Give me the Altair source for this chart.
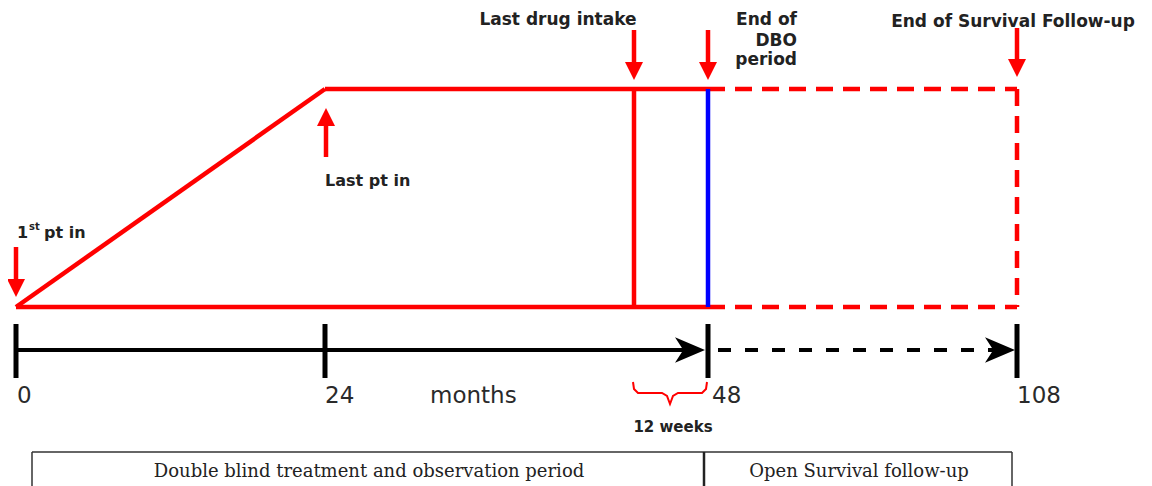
import altair as alt
import pandas as pd

# ---- schematic timeline (diagram units) ----
tick_pos = [16, 325, 708, 1017]
tick_labels = ["0", "24", "48", "108"]
y_top = 89
y_base = 307
y_axis = 350

# red study outline: solid segments
solid_x1 = [16, 16, 325, 634]
solid_y1 = [y_base, y_base, y_top, y_top]
solid_x2 = [708, 325, 708, 634]
solid_y2 = [y_base, y_top, y_top, y_base]
# red study outline: dashed (follow-up) segments
dash_x1 = [708, 708, 1017]
dash_y1 = [y_base, y_top, y_top]
dash_x2 = [1017, 1017, 1017]
dash_y2 = [y_base, y_top, y_base]
# blue end-of-DBO line
blue_x = [708]

# red event arrows (shaft start, shaft end, head centre)
down_x = [634, 708, 1017, 16]
down_shaft_top = [30, 30, 28, 247]
down_shaft_bot = [64, 64, 62, 281]
down_head = [71, 71, 68, 288]
up_x = [326]
up_shaft_top = [125]
up_shaft_bot = [157]
up_head = [117]

# black axis
axis_solid = [16, 690]
axis_dash = [708, 1000]
axis_heads = [690, 1000]
tick_top, tick_bot = 324, 378

# brace for "12 weeks"
brace_x = [633, 634, 638, 662, 667, 670, 673, 678, 702, 706, 707]
brace_y = [382, 389, 393, 393, 396, 404, 396, 393, 393, 389, 382]

# box
box_left, box_div, box_right, box_top, box_bot = 32, 704, 1012, 452, 486

xs = alt.Scale(domain=[8, 1144], nice=False, zero=False)
ys = alt.Scale(domain=[8, 486], reverse=True, nice=False, zero=False)


def seg_df(x1, y1, x2, y2):
    return pd.DataFrame({"x": x1, "y": y1, "x2": x2, "y2": y2})


def rules(df, color, width, dash=None, offset=None):
    kw = dict(color=color, strokeWidth=width)
    if dash is not None:
        kw["strokeDash"] = dash
    if offset is not None:
        kw["strokeDashOffset"] = offset
    return alt.Chart(df).mark_rule(**kw).encode(
        x=alt.X("x:Q", scale=xs, axis=None),
        y=alt.Y("y:Q", scale=ys, axis=None),
        x2="x2:Q",
        y2="y2:Q",
    )


def symbols(df, shape, size, color):
    return alt.Chart(df).mark_point(
        shape=shape, size=size, filled=True, color=color, opacity=1, strokeWidth=0
    ).encode(
        x=alt.X("x:Q", scale=xs, axis=None),
        y=alt.Y("y:Q", scale=ys, axis=None),
    )


def texts(df, size, weight, align, font, color="#222222"):
    return alt.Chart(df).mark_text(
        fontSize=size, fontWeight=weight, align=align, baseline="alphabetic",
        font=font, color=color
    ).encode(
        x=alt.X("x:Q", scale=xs, axis=None),
        y=alt.Y("y:Q", scale=ys, axis=None),
        text="t:N",
    )


RED = "#ff0000"
layers = []
layers.append(rules(seg_df(solid_x1, solid_y1, solid_x2, solid_y2), RED, 4.5))
layers.append(rules(seg_df(dash_x1, dash_y1, dash_x2, dash_y2), RED, 4.5, dash=[17, 10]))
layers.append(rules(seg_df(blue_x, [y_top], blue_x, [y_base]), "#0000ff", 4.5))

# arrows
layers.append(rules(seg_df(down_x, down_shaft_top, down_x, down_shaft_bot), RED, 4.5))
layers.append(symbols(pd.DataFrame({"x": down_x, "y": down_head}),
                      "M-1,-1L1,-1L0,1Z", 324, RED))
layers.append(rules(seg_df(up_x, up_shaft_top, up_x, up_shaft_bot), RED, 4.5))
layers.append(symbols(pd.DataFrame({"x": up_x, "y": up_head}),
                      "M-1,1L1,1L0,-1Z", 324, RED))

# black axis
layers.append(rules(seg_df([axis_solid[0]], [y_axis], [axis_solid[1]], [y_axis]), "black", 4))
layers.append(rules(seg_df([axis_dash[0]], [y_axis], [axis_dash[1]], [y_axis]), "black", 4,
                    dash=[13, 14], offset=17))
layers.append(rules(seg_df(tick_pos, [tick_top] * 4, tick_pos, [tick_bot] * 4), "black", 5))
layers.append(symbols(pd.DataFrame({"x": axis_heads, "y": [y_axis] * 2}),
                      "M1,0L-1,-0.85L-0.45,0L-1,0.85Z", 900, "black"))

# brace
layers.append(alt.Chart(pd.DataFrame({"x": brace_x, "y": brace_y, "i": range(len(brace_x))}))
              .mark_line(color=RED, strokeWidth=2)
              .encode(x=alt.X("x:Q", scale=xs, axis=None),
                      y=alt.Y("y:Q", scale=ys, axis=None),
                      order="i:Q"))

# box
layers.append(rules(seg_df([box_left], [box_top], [box_right], [box_top]), "#333333", 1.5))
layers.append(rules(seg_df([box_left, box_right], [box_top] * 2, [box_left, box_right], [box_bot] * 2),
                    "#333333", 1.5))
layers.append(rules(seg_df([box_div], [box_top], [box_div], [box_bot]), "#222222", 2.5))

SANS = "DejaVu Sans"
SERIF = "DejaVu Serif"
layers.append(texts(pd.DataFrame({"t": ["Last drug intake", "End of Survival Follow-up"],
                                  "x": [558, 1013], "y": [25, 27]}), 17, "bold", "center", SANS))
layers.append(texts(pd.DataFrame({"t": ["End of", "DBO", "period"],
                                  "x": [797, 797, 797], "y": [25, 46, 65]}), 17, "bold", "right", SANS))
layers.append(texts(pd.DataFrame({"t": ["Last pt in", "1", "pt in"],
                                  "x": [325, 17, 44], "y": [186, 238, 238]}), 16, "bold", "left", SANS))
layers.append(texts(pd.DataFrame({"t": ["st"], "x": [29], "y": [230]}), 10, "bold", "left", SANS))
layers.append(texts(pd.DataFrame({"t": tick_labels + ["months"],
                                  "x": [17, 325, 712, 1017, 430], "y": [403] * 5}),
                    23, "normal", "left", SANS, color="#2a2a2a"))
layers.append(texts(pd.DataFrame({"t": ["12  weeks"], "x": [673], "y": [432]}), 15, "bold", "center", SANS))
layers.append(texts(pd.DataFrame({"t": ["Double blind treatment and observation period",
                                        "Open  Survival follow-up"],
                                  "x": [369, 859], "y": [477, 477]}), 18, "normal", "center", SERIF))

chart = alt.layer(*layers).properties(
    width=1136, height=478, padding=0, autosize=alt.AutoSizeParams(type="none")
).configure_view(stroke=None)

chart.save("out.html", embed_options={"renderer": "svg", "actions": False})
